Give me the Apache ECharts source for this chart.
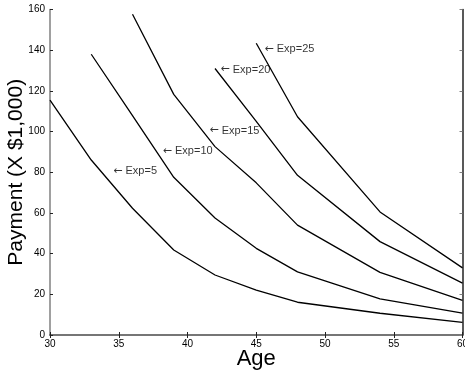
<!DOCTYPE html>
<html>
<head>
<meta charset="utf-8">
<script src="https://cdn.jsdelivr.net/npm/echarts@6/dist/echarts.min.js"></script>
<style>
  html, body { margin: 0; padding: 0; background: #fff; }
  #chart { width: 465px; height: 377px; }
</style>
</head>
<body>
<div id="chart"></div>
<script>
// Ages at which payments were computed
const ages = [30, 33, 36, 39, 42, 45, 48, 54, 60];

// Payment (in $1,000) by years of experience; null where the curve has not started
const exp5  = [115.5, 86.0, 62.3, 41.8, 29.5, 22.1, 16.1, 10.7, 6.2];
const exp10 = [null, 138.0, 107.8, 77.5, 57.5, 42.6, 31.0, 17.8, 10.7];
const exp15 = [null, null, 157.7, 118.3, 92.6, 74.8, 54.0, 30.8, 17.0];
const exp20 = [null, null, null, null, 131.0, 105.0, 78.5, 45.9, 25.5];
const exp25 = [null, null, null, null, null, 143.4, 107.3, 60.5, 33.0];

// Curve annotations: text and anchor (age, payment)
const labelTexts = ['Exp=5', 'Exp=10', 'Exp=15', 'Exp=20', 'Exp=25'];
const labelAges  = [34.6, 38.2, 41.6, 42.4, 45.6];
const labelPays  = [80.5, 90.5, 100.5, 130.5, 140.5];

// x / y tick settings
const ageTicks = { min: 30, max: 60, interval: 5 };
const payTicks = { min: 0, max: 160, interval: 20 };

const FONT = '"Liberation Sans", Arial, Helvetica, sans-serif';

function pairs(vals) {
  const out = [];
  vals.forEach((v, i) => { if (v !== null) out.push([ages[i], v]); });
  return out;
}

const curves = [exp5, exp10, exp15, exp20, exp25];
const lineSeries = curves.map((vals, k) => ({
  type: 'line',
  name: labelTexts[k],
  data: pairs(vals),
  showSymbol: false,
  symbol: 'none',
  lineStyle: { color: '#000', width: 1.3 },
  silent: true,
  z: 3
}));

const labelSeries = {
  type: 'scatter',
  data: labelAges.map((a, i) => ({ value: [a, labelPays[i]], name: labelTexts[i] })),
  symbolSize: 0,
  silent: true,
  label: {
    show: true,
    position: 'right',
    distance: 0,
    formatter: p => '{arr|\u2190} ' + p.name,
    fontFamily: FONT,
    fontSize: 11,
    color: '#000',
    rich: {
      arr: { fontFamily: '"DejaVu Sans", sans-serif', fontSize: 11, color: '#000' }
    }
  },
  z: 4
};

const tickLabel = { fontFamily: FONT, fontSize: 10, color: '#000' };

const chart = echarts.init(document.getElementById('chart'), null, { renderer: 'canvas' });
chart.setOption({
  animation: false,
  backgroundColor: '#fff',
  grid: {
    left: 50, right: 2.5, top: 9.5, bottom: 42,
    containLabel: false, outerBoundsMode: 'none'
  },
  xAxis: [
    {
      type: 'value', position: 'bottom', ...ageTicks,
      name: 'Age', nameLocation: 'middle', nameGap: 13, nameMoveOverlap: false,
      nameTextStyle: { fontFamily: FONT, fontSize: 22, color: '#000', verticalAlign: 'top' },
      axisLine: { lineStyle: { color: '#222', width: 1.5 } },
      axisTick: { inside: true, length: 3, lineStyle: { color: '#222' } },
      axisLabel: { ...tickLabel, margin: 4 },
      splitLine: { show: false }
    },
    {
      type: 'value', position: 'top', ...ageTicks,
      axisLine: { lineStyle: { color: '#808080', width: 1.5 } },
      axisTick: { inside: true, length: 3, lineStyle: { color: '#222' } },
      axisLabel: { show: false },
      splitLine: { show: false }
    }
  ],
  yAxis: [
    {
      type: 'value', position: 'left', ...payTicks,
      name: 'Payment (X $1,000)', nameLocation: 'middle', nameGap: 23, nameRotate: 90,
      nameMoveOverlap: false,
      nameTextStyle: { fontFamily: FONT, fontSize: 21, color: '#000' },
      axisLine: { lineStyle: { color: '#808080', width: 1.5 } },
      axisTick: { inside: true, length: 3, lineStyle: { color: '#222' } },
      axisLabel: { ...tickLabel, margin: 5 },
      splitLine: { show: false }
    },
    {
      type: 'value', position: 'right', ...payTicks,
      axisLine: { lineStyle: { color: '#222', width: 1.5 } },
      axisTick: { inside: true, length: 3, lineStyle: { color: '#808080' } },
      axisLabel: { show: false },
      splitLine: { show: false }
    }
  ],
  series: [...lineSeries, labelSeries]
});
</script>
</body>
</html>
